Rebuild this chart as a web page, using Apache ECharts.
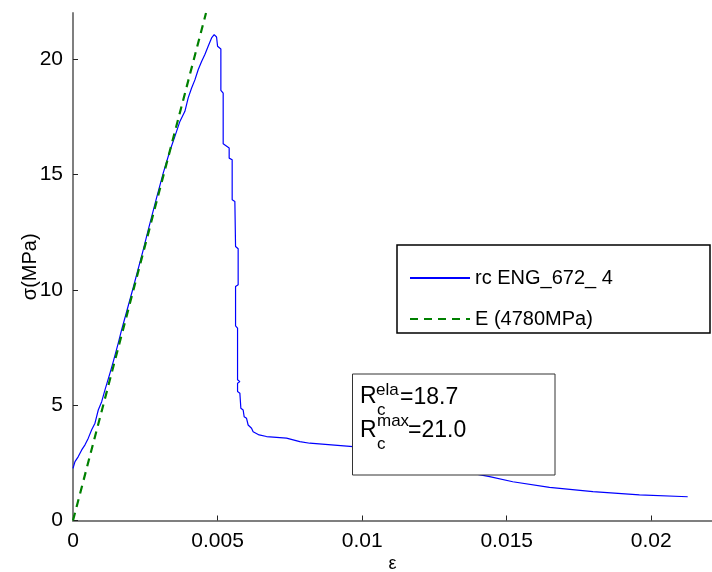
<!DOCTYPE html>
<html>
<head>
<meta charset="utf-8">
<script src="https://cdn.jsdelivr.net/npm/echarts@6/dist/echarts.min.js"></script>
<style>
  html, body { margin: 0; padding: 0; background: #fff; }
  #chart { width: 712px; height: 572px; }
</style>
</head>
<body>
<div id="chart"></div>
<script>
// ---- data ----
const seriesNames = ['rc ENG_672_ 4', 'E (4780MPa)'];
const xTicks = [0, 0.005, 0.01, 0.015, 0.02];
const yTicks = [0, 5, 10, 15, 20];
const xLabel = 'ε';
const yLabel = 'σ(MPa)';
// measured stress-strain curve (strain, stress MPa)
const strain = [
  0, 0.000069, 0.000183, 0.000301, 0.000415, 0.000529, 0.000646, 0.00076, 0.000874, 0.000992,
  0.001106, 0.001279, 0.001393, 0.001565, 0.001683, 0.002084, 0.002429, 0.002602, 0.002892, 0.00312,
  0.003352, 0.003525, 0.003697, 0.00387, 0.003984, 0.004102, 0.004216, 0.004329, 0.004447, 0.004561,
  0.004675, 0.004793, 0.004882, 0.004965, 0.005, 0.005114, 0.005114, 0.005194, 0.005194, 0.005401,
  0.005401, 0.005505, 0.005505, 0.005598, 0.005622, 0.005712, 0.005712, 0.005622, 0.005622, 0.005691,
  0.005691, 0.005771, 0.005691, 0.005691, 0.005771, 0.005805, 0.005885, 0.005919, 0.006002, 0.006057,
  0.006175, 0.00623, 0.006438, 0.006693, 0.007384, 0.007844, 0.008189, 0.009686, 0.011, 0.012,
  0.013, 0.014, 0.01441, 0.01521, 0.01648, 0.01798, 0.01959, 0.02126
];
const stress = [
  2.26, 2.55, 2.77, 3.06, 3.28, 3.57, 3.93, 4.22, 4.79, 5.15,
  5.66, 6.39, 6.89, 7.69, 8.27, 10.1, 11.73, 12.6, 14.0, 15.06,
  16.03, 16.65, 17.3, 17.74, 18.32, 18.75, 19.1, 19.54, 19.9, 20.2,
  20.56, 20.92, 21.06, 20.96, 20.56, 20.44, 18.65, 18.53, 16.33, 16.15,
  15.71, 15.64, 13.9, 13.83, 11.88, 11.78, 10.22, 10.14, 8.44, 8.34,
  6.1, 6.02, 5.95, 5.59, 5.52, 4.87, 4.79, 4.5, 4.43, 4.14,
  4.0, 3.85, 3.71, 3.64, 3.57, 3.42, 3.35, 3.2, 2.9, 2.6,
  2.3, 2.0, 1.9, 1.68, 1.44, 1.25, 1.11, 1.03
];
// elastic modulus line endpoints (strain, stress)
const eStrain = [0, 0.0046];
const eStress = [0, 22];
// annotation values
const rcEla = '18.7';
const rcMax = '21.0';

// ---- chart ----
const FONT = '"Liberation Sans", Arial, Helvetica, sans-serif';
const curve = strain.map((s, i) => [s, stress[i]]);
const eLine = eStrain.map((s, i) => [s, eStress[i]]);

const chart = echarts.init(document.getElementById('chart'), null, { renderer: 'canvas' });
chart.setOption({
  animation: false,
  backgroundColor: '#ffffff',
  grid: { left: 73, right: 0, top: 13, bottom: 51.5, containLabel: false, outerBoundsMode: 'none' },
  xAxis: {
    type: 'value',
    min: 0, max: 0.0221,
    interval: 0.005,
    name: xLabel,
    nameLocation: 'middle',
    nameGap: 35,
    nameMoveOverlap: false,
    nameTextStyle: { fontSize: 18, color: '#000', fontFamily: FONT },
    axisLine: { show: true, lineStyle: { color: '#7f7f7f', width: 2 } },
    axisTick: { show: true, inside: true, length: 5, customValues: xTicks, lineStyle: { color: '#222', width: 1 } },
    axisLabel: { customValues: xTicks, fontSize: 21, color: '#000', fontFamily: FONT, margin: 10,
      formatter: v => String(+v.toFixed(3)) },
    splitLine: { show: false }
  },
  yAxis: {
    type: 'value',
    min: 0, max: 22,
    interval: 5,
    name: yLabel,
    nameLocation: 'middle',
    nameGap: 33,
    nameMoveOverlap: false,
    nameRotate: 90,
    nameTextStyle: { fontSize: 20, color: '#000', fontFamily: FONT },
    axisLine: { show: true, lineStyle: { color: '#7f7f7f', width: 2 } },
    axisTick: { show: true, inside: true, length: 5, customValues: yTicks, lineStyle: { color: '#222', width: 1 } },
    axisLabel: { customValues: yTicks, fontSize: 21, color: '#000', fontFamily: FONT, margin: 10 },
    splitLine: { show: false }
  },
  legend: {
    orient: 'vertical',
    left: 409, top: 268,
    padding: 0,
    itemWidth: 60, itemHeight: 20, itemGap: 21,
    selectedMode: false,
    itemStyle: { color: 'rgba(0,0,0,0)', borderColor: 'rgba(0,0,0,0)', borderWidth: 0, opacity: 0 },
    textStyle: { fontSize: 20, lineHeight: 20, color: '#000', fontFamily: FONT },
    data: seriesNames,
    z: 20
  },
  series: [
    {
      name: seriesNames[0], type: 'line', data: curve,
      symbol: 'none', showSymbol: false, clip: true,
      lineStyle: { color: '#0000ff', width: 1.2 },
      itemStyle: { color: '#0000ff' }
    },
    {
      name: seriesNames[1], type: 'line', data: eLine,
      symbol: 'none', showSymbol: false, clip: true,
      lineStyle: { color: '#008000', width: 2.2, type: [8, 6] },
      itemStyle: { color: '#008000' }
    }
  ],
  graphic: [
    { type: 'rect', z: 15, shape: { x: 397, y: 245, width: 313, height: 88 },
      style: { fill: '#fff', stroke: '#000', lineWidth: 1.5 } },
    { type: 'rect', z: 15, shape: { x: 352.5, y: 374, width: 202.5, height: 101 },
      style: { fill: '#fff', stroke: '#333', lineWidth: 1 } },
    { type: 'text', z: 16, x: 360, y: 397, style: { text: 'R', font: '23px ' + FONT, fill: '#000', verticalAlign: 'middle' } },
    { type: 'text', z: 16, x: 376, y: 390, style: { text: 'ela', font: '17px ' + FONT, fill: '#000', verticalAlign: 'middle' } },
    { type: 'text', z: 16, x: 377, y: 410, style: { text: 'c', font: '17px ' + FONT, fill: '#000', verticalAlign: 'middle' } },
    { type: 'text', z: 16, x: 400, y: 398, style: { text: '=' + rcEla, font: '23px ' + FONT, fill: '#000', verticalAlign: 'middle' } },
    { type: 'text', z: 16, x: 360, y: 431, style: { text: 'R', font: '23px ' + FONT, fill: '#000', verticalAlign: 'middle' } },
    { type: 'text', z: 16, x: 377, y: 421, style: { text: 'max', font: '17px ' + FONT, fill: '#000', verticalAlign: 'middle' } },
    { type: 'text', z: 16, x: 377, y: 444, style: { text: 'c', font: '17px ' + FONT, fill: '#000', verticalAlign: 'middle' } },
    { type: 'text', z: 16, x: 408, y: 431, style: { text: '=' + rcMax, font: '23px ' + FONT, fill: '#000', verticalAlign: 'middle' } }
  ]
});
</script>
</body>
</html>
